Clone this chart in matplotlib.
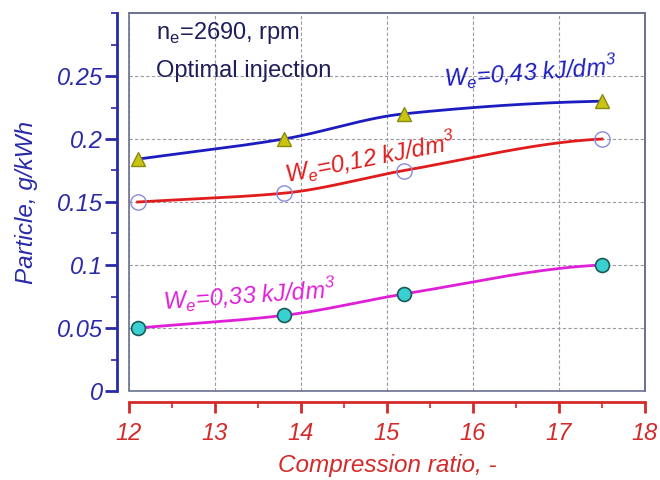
import numpy as np
import matplotlib
matplotlib.use("Agg")
import matplotlib.pyplot as plt
from matplotlib.patches import Rectangle
from matplotlib.ticker import MultipleLocator

# ---- data ----
ratio_pts = [12.1, 13.8, 15.2, 17.5]
we043 = [0.184, 0.200, 0.220, 0.230]
we012 = [0.150, 0.157, 0.175, 0.200]
we033 = [0.050, 0.060, 0.077, 0.100]

x_ticks = [12, 13, 14, 15, 16, 17, 18]
x_tick_labels = ["12", "13", "14", "15", "16", "17", "18"]
y_ticks = [0, 0.05, 0.1, 0.15, 0.2, 0.25]
y_tick_labels = ["0", "0.05", "0.1", "0.15", "0.2", "0.25"]

label043 = r"W$_\mathregular{e}$=0,43 kJ/dm$^\mathregular{3}$"
label012 = r"W$_\mathregular{e}$=0,12 kJ/dm$^\mathregular{3}$"
label033 = r"W$_\mathregular{e}$=0,33 kJ/dm$^\mathregular{3}$"


def pchip(x, y, xs):
    x = np.asarray(x, float); y = np.asarray(y, float)
    h = np.diff(x); d = np.diff(y) / h
    n = len(x); m = np.zeros(n)
    for k in range(1, n - 1):
        if d[k - 1] * d[k] > 0:
            w1 = 2 * h[k] + h[k - 1]; w2 = h[k] + 2 * h[k - 1]
            m[k] = (w1 + w2) / (w1 / d[k - 1] + w2 / d[k])
    m[0] = d[0]; m[-1] = d[-1] * 0.3
    out = np.empty_like(xs)
    for i, xv in enumerate(xs):
        k = min(max(np.searchsorted(x, xv) - 1, 0), n - 2)
        t = (xv - x[k]) / h[k]
        h00 = 2 * t**3 - 3 * t**2 + 1; h10 = t**3 - 2 * t**2 + t
        h01 = -2 * t**3 + 3 * t**2; h11 = t**3 - t**2
        out[i] = h00 * y[k] + h10 * h[k] * m[k] + h01 * y[k + 1] + h11 * h[k] * m[k + 1]
    return out


plt.rcParams['font.family'] = ['Liberation Sans', 'DejaVu Sans']

fig = plt.figure(figsize=(6.6, 4.8), dpi=100)
ax = fig.add_axes([129 / 660, 1 - 391 / 480, (645 - 129) / 660, (391 - 13) / 480])

blue = '#1c1cc0'
red = '#e01c1c'
mag = '#e020d8'
ax_blue = '#2a2aa8'
ax_red = '#d42a2a'
box = '#6a7090'
navy = '#1e1e5a'

xs = np.linspace(ratio_pts[0], ratio_pts[-1], 200)
ax.plot(xs, pchip(ratio_pts, we043, xs), color=blue, lw=2, zorder=3)
ax.plot(xs, pchip(ratio_pts, we012, xs), color=red, lw=2, zorder=3)
ax.plot(xs, pchip(ratio_pts, we033, xs), color=mag, lw=2, zorder=3)

ax.plot(ratio_pts, we043, ls='none', marker='^', ms=10, mfc='#c8c410', mec='#8a8a10', mew=1, zorder=4)
ax.plot(ratio_pts, we012, ls='none', marker='o', ms=11, mfc='none', mec='#8a8ad8', mew=1, zorder=4)
ax.plot(ratio_pts, we033, ls='none', marker='o', ms=10, mfc='#38d0d0', mec='#1a5a5a', mew=1.2, zorder=4)

ax.set_xlim(12, 18)
ax.set_ylim(0, 0.3)
ax.set_xticks(x_ticks, x_tick_labels)
ax.set_yticks(y_ticks, y_tick_labels)
ax.xaxis.set_minor_locator(MultipleLocator(0.5))
ax.yaxis.set_minor_locator(MultipleLocator(0.025))

ax.grid(True, which='major', color='#9a9aa4', ls=(0, (3, 2)), lw=0.8)

for s in ['top', 'right']:
    ax.spines[s].set_color(box)
    ax.spines[s].set_linewidth(1.2)
ax.spines['left'].set_position(('outward', 8.6))
ax.spines['bottom'].set_position(('outward', 8))
ax.spines['left'].set_color(ax_blue)
ax.spines['left'].set_linewidth(2)
ax.spines['bottom'].set_color(ax_red)
ax.spines['bottom'].set_linewidth(2)
ax.add_patch(Rectangle((0, 0), 1, 1, transform=ax.transAxes, fill=False,
                       edgecolor=box, lw=1.2, zorder=5, clip_on=False))

ax.tick_params(axis='y', which='major', direction='out', length=8.5, width=2, color=ax_blue,
               labelcolor=ax_blue, labelsize=17, pad=1.5)
ax.tick_params(axis='y', which='minor', direction='out', length=4, width=1.2, color=ax_blue)
ax.tick_params(axis='x', which='major', direction='out', length=8, width=2, color=ax_red,
               labelcolor=ax_red, labelsize=17, pad=6)
ax.tick_params(axis='x', which='minor', direction='out', length=4, width=1.2, color=ax_red)
for lab in ax.get_xticklabels() + ax.get_yticklabels():
    lab.set_style('italic')

ax.set_ylabel("Particle, g/kWh", color=ax_blue, fontsize=17.5, style='italic', labelpad=14)
ax.set_xlabel("Compression ratio, -", color=ax_red, fontsize=17.5, style='italic', labelpad=7)

ax.text(12.31, 0.2793, r"n$_\mathregular{e}$=2690, rpm", fontsize=17, color=navy,
        ha='left', va='baseline')
ax.text(12.31, 0.2495, "Optimal injection", fontsize=17, color=navy, ha='left', va='baseline')

ax.text(15.67, 0.2405, label043, color=blue, fontsize=17, style='italic', rotation=4,
        rotation_mode='anchor', ha='left', va='baseline')
ax.text(13.84, 0.1646, label012, color=red, fontsize=17, style='italic', rotation=11,
        rotation_mode='anchor', ha='left', va='baseline')
ax.text(12.40, 0.064, label033, color=mag, fontsize=17, style='italic', rotation=4,
        rotation_mode='anchor', ha='left', va='baseline')

fig.savefig("out.png", dpi=100)
